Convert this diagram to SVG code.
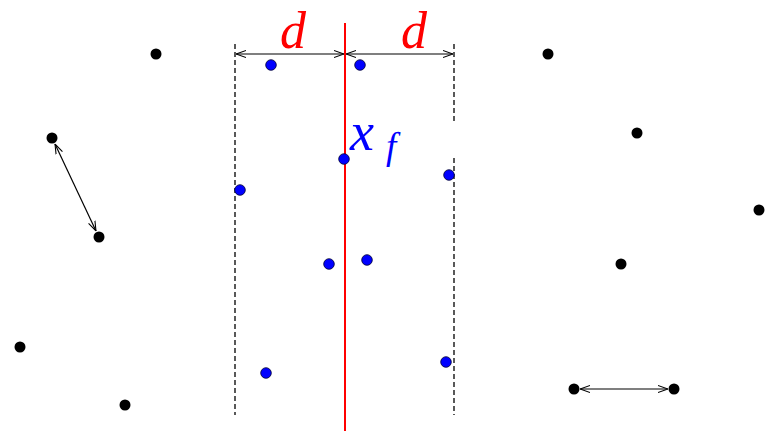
<svg xmlns="http://www.w3.org/2000/svg" width="776" height="431" viewBox="0 0 776 431">
<style>
.blk{fill:#000}
.blu{fill:#0000ff;stroke:#000033;stroke-width:0.8}
.dash{stroke:#000;stroke-width:1.3;stroke-dasharray:5,3;fill:none}
.arr{stroke:#000;stroke-width:1.2;fill:none;marker-start:url(#h);marker-end:url(#h)}
.lbl{font-family:"Liberation Serif","DejaVu Serif",serif;font-style:italic;}
</style>
<defs>
<marker id="h" viewBox="0 0 10 10" refX="10" refY="5" markerWidth="10" markerHeight="10" markerUnits="userSpaceOnUse" orient="auto-start-reverse">
<path d="M0,1.5 L10,5 L0,8.5" fill="none" stroke="#000" stroke-width="1.1"/>
</marker>
</defs>
<rect width="776" height="431" fill="#fff"/>
<g id="connectors">
<line class="dash" x1="235" y1="44" x2="235" y2="415"/>
<line class="dash" x1="454" y1="44" x2="454" y2="123"/>
<line class="dash" x1="454" y1="158" x2="454" y2="415"/>
<line x1="345" y1="23" x2="345" y2="431" stroke="#ff0000" stroke-width="2"/>
<line class="arr" x1="236" y1="54" x2="344" y2="54"/>
<line class="arr" x1="346" y1="54" x2="453" y2="54"/>
<line class="arr" x1="55" y1="144" x2="96" y2="231"/>
<line class="arr" x1="580" y1="389" x2="668" y2="389"/>
</g>
<g id="labels">
<text class="lbl" x="280" y="48" font-size="52" fill="#ff0000">d</text>
<text class="lbl" x="401" y="48" font-size="52" fill="#ff0000">d</text>
<text class="lbl" x="350" y="150" font-size="54" fill="#0000ff">x</text>
<text class="lbl" x="386" y="159" font-size="37" fill="#0000ff">f</text>
</g>
<g id="black-points">
<circle class="blk" cx="156" cy="54" r="5.5"/>
<circle class="blk" cx="52" cy="138" r="5.5"/>
<circle class="blk" cx="99" cy="237" r="5.5"/>
<circle class="blk" cx="20" cy="347" r="5.5"/>
<circle class="blk" cx="125" cy="405" r="5.5"/>
<circle class="blk" cx="548" cy="54" r="5.5"/>
<circle class="blk" cx="637" cy="133" r="5.5"/>
<circle class="blk" cx="759" cy="210" r="5.5"/>
<circle class="blk" cx="621" cy="264" r="5.5"/>
<circle class="blk" cx="574" cy="389" r="5.5"/>
<circle class="blk" cx="674" cy="389" r="5.5"/>
</g>
<g id="blue-points">
<circle class="blu" cx="271" cy="65" r="5.3"/>
<circle class="blu" cx="360" cy="65" r="5.3"/>
<circle class="blu" cx="344" cy="159" r="5.3"/>
<circle class="blu" cx="240" cy="190" r="5.3"/>
<circle class="blu" cx="449" cy="175" r="5.3"/>
<circle class="blu" cx="329" cy="264" r="5.3"/>
<circle class="blu" cx="367" cy="260" r="5.3"/>
<circle class="blu" cx="266" cy="373" r="5.3"/>
<circle class="blu" cx="446" cy="362" r="5.3"/>
</g>
</svg>
